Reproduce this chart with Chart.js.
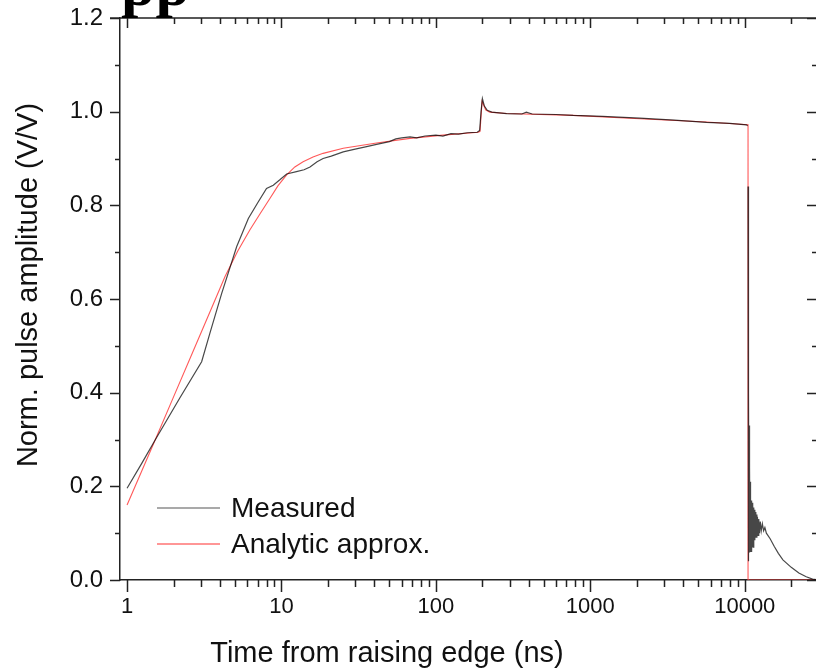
<!DOCTYPE html>
<html>
<head>
<meta charset="utf-8">
<script src="https://cdn.jsdelivr.net/npm/chart.js@4.4.0/dist/chart.umd.min.js"></script>
<style>
html, body { margin: 0; padding: 0; background: #fff; overflow: hidden; }
#wrap { position: relative; width: 818px; height: 672px; }
#frag { position: absolute; left: 121px; top: -46px; font: bold 62px "Liberation Serif", serif; line-height: 60px; color: #000; }
canvas { display: block; }
</style>
</head>
<body>
<div id="wrap">
  <div id="frag">pp</div>
  <canvas id="chart" width="818" height="672"></canvas>
</div>
<script>
// measured pulse (time in ns, normalised amplitude)
const measuredT = [1.0, 1.25, 1.52, 2.2, 3.04, 3.44, 4.1, 5.13, 6.1, 7.0, 8.0, 8.85, 9.8, 10.8, 12.5, 14.0, 15.3, 17.0, 18.6, 21.0, 25.1, 30, 35, 41.3, 50, 55, 60, 68, 75, 85, 100, 111, 125, 140, 160, 185, 192, 196, 200, 206, 215, 230, 287, 360, 385, 420, 600, 774, 1200, 2090, 3500, 5650, 8000, 10260, 10440, 10480,
  10500, 10515, 10530, 10545, 10560, 10580, 10600, 10620, 10640, 10660, 10685, 10710, 10735, 10760, 10790, 10820, 10850, 10880, 10915, 10950, 10990, 11030, 11070, 11120, 11170, 11220, 11280, 11340, 11400, 11470, 11540, 11620, 11700, 11790, 11880, 11980, 12080, 12200, 12320, 12450, 12600, 12780, 13000, 13250, 13500, 13800, 14600, 15500, 16500, 17660, 20000, 22400, 25000, 27500, 30000];
const measuredV = [0.196, 0.25, 0.299, 0.389, 0.466, 0.527, 0.612, 0.712, 0.772, 0.805, 0.836, 0.843, 0.855, 0.867, 0.872, 0.876, 0.882, 0.893, 0.900, 0.905, 0.914, 0.92, 0.925, 0.93, 0.936, 0.942, 0.944, 0.946, 0.944, 0.948, 0.950, 0.948, 0.953, 0.952, 0.955, 0.956, 0.96, 1.0, 1.028, 1.012, 1.003, 0.999, 0.996, 0.995, 0.999, 0.995, 0.994, 0.992, 0.990, 0.986, 0.982, 0.977, 0.975, 0.972, 0.970, null,
  0.84, 0.05, 0.70, 0.04, 0.58, 0.05, 0.48, 0.05, 0.40, 0.06, 0.33, 0.06, 0.28, 0.06, 0.24, 0.07, 0.21, 0.06, 0.19, 0.07, 0.17, 0.07, 0.17, 0.06, 0.16, 0.07, 0.165, 0.07, 0.155, 0.08, 0.15, 0.085, 0.145, 0.09, 0.14, 0.09, 0.135, 0.095, 0.13, 0.10, 0.125, 0.105, 0.12, 0.105, 0.112, 0.10, 0.088, 0.072, 0.057, 0.043, 0.027, 0.015, 0.007, 0.002, 0];

// analytic approximation
const analyticT = [1.0, 1.52, 2.0, 2.69, 3.5, 4.31, 5.2, 6.25, 7.3, 8.43, 9.5, 10.8, 12.2, 13.8, 16, 18.6, 25.1, 41.3, 68, 111, 188, 193, 199, 210, 223, 287, 774, 2090, 5650, 10500, 10500, 30000];
const analyticV = [0.16, 0.299, 0.391, 0.49, 0.578, 0.648, 0.702, 0.748, 0.783, 0.815, 0.842, 0.865, 0.882, 0.893, 0.903, 0.911, 0.922, 0.933, 0.943, 0.95, 0.956, 0.958, 1.022, 1.004, 0.999, 0.996, 0.992, 0.985, 0.978, 0.972, 0, 0];

const xDecades = [1, 10, 100, 1000, 10000];
const yTicks = [0, 0.2, 0.4, 0.6, 0.8, 1.0, 1.2];
const yMinor = [0.1, 0.3, 0.5, 0.7, 0.9, 1.1];

const xTitle = 'Time from raising edge (ns)';
const yTitle = 'Norm. pulse amplitude (V/V)';

const pts = (t, v) => t.map((x, i) => ({ x: x, y: v[i] }));

let xMinor = [];
for (let n = 0; n <= 4; n++) {
  for (let k = 2; k <= 9; k++) xMinor.push(k * Math.pow(10, n));
}
xMinor.push(20000);

const axisColor = '#222';
const font = '"Liberation Sans", Arial, sans-serif';

// frame ticks on all four sides, axis titles and legend
const frameTicks = {
  id: 'frameTicks',
  afterDraw(chart) {
    const ctx = chart.ctx;
    const a = chart.chartArea;
    const x = chart.scales.x, y = chart.scales.y;
    ctx.save();
    ctx.strokeStyle = axisColor;
    ctx.lineWidth = 1.5;
    ctx.beginPath();
    ctx.moveTo(a.left - 10, a.top); ctx.lineTo(a.right, a.top);
    ctx.moveTo(a.right - 1, a.top); ctx.lineTo(a.right - 1, a.bottom);
    xDecades.forEach(v => {
      const px = Math.round(x.getPixelForValue(v)) + 0.5;
      ctx.moveTo(px, a.bottom); ctx.lineTo(px, a.bottom + 12);
      ctx.moveTo(px, a.top); ctx.lineTo(px, a.top + 10);
    });
    xMinor.forEach(v => {
      const px = Math.round(x.getPixelForValue(v)) + 0.5;
      if (px > a.right) return;
      ctx.moveTo(px, a.bottom); ctx.lineTo(px, a.bottom + 7);
      ctx.moveTo(px, a.top); ctx.lineTo(px, a.top + 6);
    });
    yTicks.forEach(v => {
      const py = Math.round(y.getPixelForValue(v)) + 0.5;
      ctx.moveTo(a.left - 10, py); ctx.lineTo(a.left, py);
      ctx.moveTo(a.right - 11, py); ctx.lineTo(a.right - 1, py);
    });
    yMinor.forEach(v => {
      const py = Math.round(y.getPixelForValue(v)) + 0.5;
      ctx.moveTo(a.left - 5, py); ctx.lineTo(a.left, py);
      ctx.moveTo(a.right - 6, py); ctx.lineTo(a.right - 1, py);
    });
    ctx.stroke();

    // axis titles
    ctx.fillStyle = '#111';
    ctx.font = '29px ' + font;
    ctx.textAlign = 'center';
    ctx.textBaseline = 'middle';
    ctx.fillText(xTitle, 387, 654);
    ctx.save();
    ctx.translate(29, 285);
    ctx.rotate(-Math.PI / 2);
    ctx.fillText(yTitle, 0, 0);
    ctx.restore();

    // legend
    ctx.font = '28px ' + font;
    ctx.textAlign = 'left';
    chart.data.datasets.forEach((ds, i) => {
      const ly = 508 + i * 36;
      ctx.strokeStyle = ds.legendColor;
      ctx.lineWidth = 1.5;
      ctx.beginPath();
      ctx.moveTo(157, ly); ctx.lineTo(220, ly);
      ctx.stroke();
      ctx.fillText(ds.label, 231, ly + 1);
    });
    ctx.restore();
  }
};

new Chart(document.getElementById('chart'), {
  type: 'line',
  data: {
    datasets: [
      {
        label: 'Measured',
        data: pts(measuredT, measuredV),
        borderColor: 'rgba(0,0,0,0.72)',
        legendColor: 'rgba(0,0,0,0.45)',
        borderWidth: 1.2,
        pointRadius: 0,
        tension: 0,
        spanGaps: false,
        order: 0
      },
      {
        label: 'Analytic approx.',
        data: pts(analyticT, analyticV),
        borderColor: 'rgba(255,70,70,0.9)',
        legendColor: 'rgba(255,90,90,0.85)',
        borderWidth: 1.1,
        pointRadius: 0,
        tension: 0,
        order: 1
      }
    ]
  },
  options: {
    responsive: false,
    animation: false,
    layout: { padding: { top: 18, left: 0, right: 0, bottom: 0 } },
    plugins: {
      legend: { display: false },
      tooltip: { enabled: false }
    },
    scales: {
      x: {
        type: 'logarithmic',
        min: 0.9,
        max: 29800,
        afterBuildTicks: s => { s.ticks = xDecades.map(v => ({ value: v })); },
        afterFit: s => { s.height = 92; s.paddingLeft = 0; s.paddingRight = 0; s.paddingTop = 0; s.paddingBottom = 0; },
        grid: { display: false, drawTicks: false },
        border: { display: true, color: axisColor, width: 1.5 },
        ticks: {
          autoSkip: false, maxRotation: 0, padding: 14, color: '#111',
          font: { family: font, size: 22 },
          callback: v => String(v)
        }
      },
      y: {
        min: 0,
        max: 1.2,
        afterBuildTicks: s => { s.ticks = yTicks.map(v => ({ value: v })); },
        afterFit: s => { s.width = 120; s.paddingTop = 0; s.paddingBottom = 0; s.paddingLeft = 0; s.paddingRight = 0; },
        grid: { display: false, drawTicks: false },
        border: { display: true, color: axisColor, width: 1.5 },
        ticks: {
          padding: 17, color: '#111',
          font: { family: font, size: 24 },
          callback: v => v.toFixed(1)
        }
      }
    }
  },
  plugins: [frameTicks]
});
</script>
</body>
</html>
